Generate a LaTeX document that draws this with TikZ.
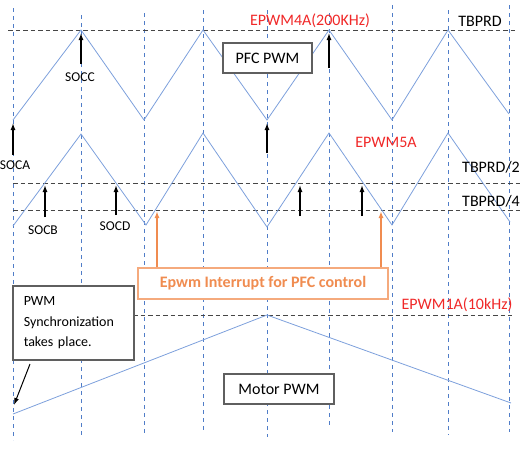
\documentclass[tikz,border=0pt]{standalone}
\usepackage{fontspec}
\setmainfont{Carlito}
\usetikzlibrary{arrows.meta}
\definecolor{vblue}{RGB}{80,125,200}
\definecolor{wblue}{RGB}{125,160,220}
\definecolor{hgray}{RGB}{70,70,70}
\definecolor{bgray}{RGB}{95,95,95}
\definecolor{ored}{RGB}{240,40,40}
\definecolor{orng}{RGB}{240,140,80}
\definecolor{orngl}{RGB}{245,170,125}
\tikzset{
  vgrid/.style={vblue, line width=0.9pt, dash pattern=on 4pt off 4pt},
  hgrid/.style={hgray, line width=0.9pt, dash pattern=on 4.5pt off 3pt},
  wave/.style={wblue, line width=0.8pt},
  socarrow/.style={black, line width=1.3pt, -{Latex[length=7pt,width=5pt]}},
  intarrow/.style={orng, line width=1.4pt, -{Latex[length=7pt,width=5pt]}},
  graybox/.style={draw=bgray, line width=1.5pt, fill=white, inner sep=0pt},
  bigtxt/.style={font=\fontsize{16}{19}\selectfont},
  smalltxt/.style={font=\fontsize{13.5}{15}\selectfont},
  redtxt/.style={ored, font=\fontsize{16}{19}\selectfont, inner sep=0pt},
}
\begin{document}
\begin{tikzpicture}[x=1pt,y=-1pt]
\useasboundingbox (0,0) rectangle (525,448);
% vertical dashed grid
\foreach \xx/\ya/\yb in {13/8/440, 81/15/437, 144/13/435, 203/10/433, 267/10/437, 329/13/428, 392/5/432, 448/10/435, 509/5/432}
  \draw[vgrid] (\xx,\ya) -- (\xx,\yb);
% horizontal dashed lines
\coordinate (tbA) at (8,30);   \coordinate (tbB) at (518,30);
\coordinate (t2A) at (13,183); \coordinate (t2B) at (520,183);
\coordinate (t4A) at (13,210); \coordinate (t4B) at (520,210);
\coordinate (m1A) at (133,315); \coordinate (m1B) at (512,315);
\draw[hgrid] (tbA) -- (tbB);
\draw[hgrid] (t2A) -- (t2B);
\draw[hgrid] (t4A) -- (t4B);
\draw[hgrid] (m1A) -- (m1B);
% waveforms
\draw[wave] (13,120) -- (81,30) -- (144,120) -- (203,30) -- (267,120) -- (329,30) -- (392,120) -- (448,30) -- (509,114);
\draw[wave] (13,226) -- (81,134) -- (146,225) -- (203,133) -- (267,227) -- (329,133) -- (392,225) -- (448,133) -- (510,222);
\draw[wave] (13,414) -- (267,315) -- (511,403);
% labels
\node[redtxt] (l4a) at (310,21) {EPWM4A(200KHz)};
\node[bigtxt, inner sep=0pt] (ltb) at (480,21) {TBPRD};
\node[redtxt] (l5a) at (386,142) {EPWM5A};
\node[bigtxt, inner sep=0pt] (ltb2) at (491,167) {TBPRD/2};
\node[bigtxt, inner sep=0pt] (ltb4) at (491,201) {TBPRD/4};
\node[redtxt] (l1a) at (457,305) {EPWM1A(10kHz)};
\node[smalltxt, inner sep=0pt] (socc) at (80,77) {SOCC};
\node[smalltxt, inner sep=0pt] (soca) at (15,165) {SOCA};
\node[smalltxt, inner sep=0pt] (socb) at (43,230) {SOCB};
\node[smalltxt, inner sep=0pt] (socd) at (115,226) {SOCD};
% boxes
\node[graybox, bigtxt, minimum width=89pt, minimum height=30pt] (pfc) at (267.5,58) {PFC PWM};
\node[graybox, bigtxt, minimum width=110pt, minimum height=30pt] (mot) at (279,389) {Motor PWM};
\node[graybox, anchor=north west, text width=99pt, inner xsep=11pt, inner ysep=9pt, align=left,
      font=\fontsize{14}{20.5}\selectfont, minimum height=74pt] (sync) at (12,285) {PWM\\Synchronization\\takes place.};
\node[draw=orngl, line width=1.4pt, fill=white, text=orng, font=\fontsize{16}{19}\selectfont\bfseries,
      minimum width=250pt, minimum height=31pt, inner sep=0pt] (intb) at (263,283.5) {Epwm Interrupt for PFC control};
% black SOC arrows
\coordinate (aC0) at (81,64);   \coordinate (aC1) at (81,33);
\coordinate (aT0) at (267,153); \coordinate (aT1) at (267,123);
\coordinate (aU0) at (329,68);  \coordinate (aU1) at (329,33);
\coordinate (aA0) at (13,155);  \coordinate (aA1) at (13,123);
\coordinate (aB0) at (45,217);  \coordinate (aB1) at (45,185);
\coordinate (aD0) at (116,215); \coordinate (aD1) at (116,185);
\coordinate (aE0) at (300,216); \coordinate (aE1) at (300,185);
\coordinate (aF0) at (362,216); \coordinate (aF1) at (362,185);
\foreach \p in {C,T,U,A,B,D,E,F}
  \draw[socarrow] (a\p0) -- (a\p1);
% sync arrow
\coordinate (sy0) at (30,364); \coordinate (sy1) at (14,405);
\draw[black, line width=1pt, -{Latex[length=7pt,width=5pt]}] (sy0) -- (sy1);
% orange interrupt arrows
\coordinate (o1) at (157,211); \coordinate (o2) at (381,211);
\draw[intarrow] (intb.north -| o1) -- (o1);
\draw[intarrow] (intb.north -| o2) -- (o2);
\end{tikzpicture}
\end{document}
